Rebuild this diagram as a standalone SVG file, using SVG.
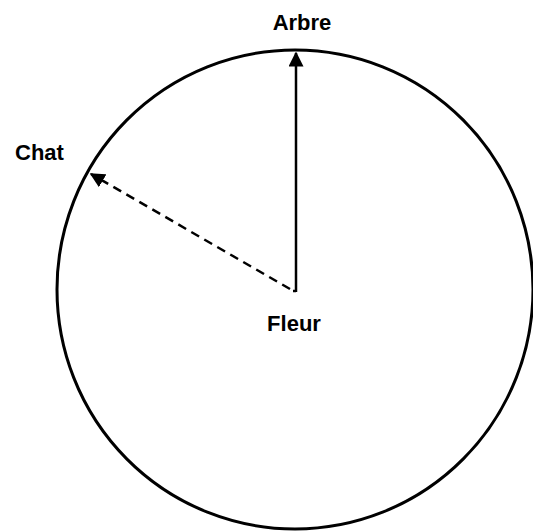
<svg xmlns="http://www.w3.org/2000/svg" width="533" height="531" viewBox="0 0 533 531">
<style>
.lbl{font-family:"Liberation Sans",Arial,sans-serif;font-weight:bold;font-size:22px;fill:#000}
.edge{stroke:#000;stroke-width:2.5;fill:none}
</style>
<defs>
<marker id="ah" viewBox="0 0 10 10" refX="9" refY="5" markerWidth="6" markerHeight="6" orient="auto" markerUnits="strokeWidth">
<path d="M0,0 L10,5 L0,10 z" fill="#000"/>
</marker>
</defs>
<rect width="533" height="531" fill="#fff"/>
<g id="circle"><ellipse cx="295" cy="289.5" rx="238" ry="239.5" fill="none" stroke="#000" stroke-width="3"/></g>
<g id="connectors">
<path class="edge" d="M296,292 L296,53" marker-end="url(#ah)"/>
<path class="edge" d="M293,291 L296,291 M290,289 L91,174" stroke-dasharray="9,6" marker-end="url(#ah)"/>
</g>
<g id="arbre"><text class="lbl" x="302" y="30" text-anchor="middle">Arbre</text></g>
<g id="chat"><text class="lbl" x="15" y="160">Chat</text></g>
<g id="fleur"><text class="lbl" x="294" y="331" text-anchor="middle">Fleur</text></g>
</svg>
